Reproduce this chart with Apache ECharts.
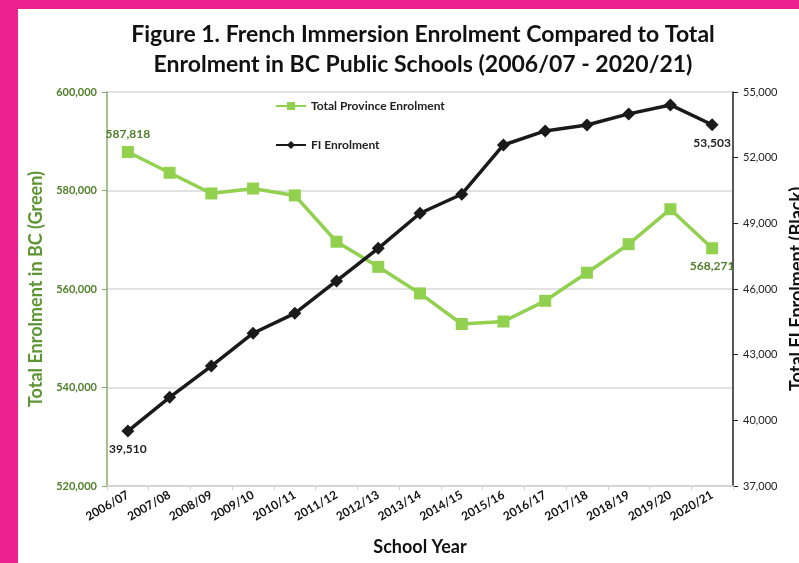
<!DOCTYPE html>
<html>
<head>
<meta charset="utf-8">
<script src="https://cdn.jsdelivr.net/npm/echarts@6/dist/echarts.min.js"></script>
<style>
  html, body { margin: 0; padding: 0; background: #ec2290; width: 799px; height: 563px; overflow: hidden; }
  #chart { position: absolute; left: 18px; top: 9px; width: 781px; height: 554px; background: #fff; }
</style>
</head>
<body>
<div id="chart"></div>
<script>
const years = ['2006/07', '2007/08', '2008/09', '2009/10', '2010/11', '2011/12', '2012/13', '2013/14',
  '2014/15', '2015/16', '2016/17', '2017/18', '2018/19', '2019/20', '2020/21'];
const totalEnrolment = [587818, 583600, 579400, 580400, 579000, 569600, 564500, 559100,
  552900, 553400, 557600, 563300, 569100, 576200, 568271];
const fiEnrolment = [39510, 41050, 42480, 43980, 44890, 46370, 47860, 49460,
  50330, 52580, 53220, 53490, 54000, 54410, 53503];

const green = '#92d050';
const darkGreen = '#4f7f2a';
const font = 'Lato, "Open Sans", sans-serif';

// only first and last point get a value label
const endLabel = (arr, firstPos, lastPos, color) => arr.map((v, i) => ({
  value: v,
  label: (i === 0 || i === arr.length - 1)
    ? { show: true, position: i === 0 ? firstPos : lastPos, distance: 6,
        color: color, fontSize: 12, fontWeight: 'bold', fontFamily: font,
        formatter: p => p.value.toLocaleString('en-US') }
    : { show: false }
}));

const chart = echarts.init(document.getElementById('chart'));
chart.setOption({
  animation: false,
  title: {
    text: 'Figure 1. French Immersion Enrolment Compared to Total\nEnrolment in BC Public Schools (2006/07 - 2020/21)',
    left: 400, top: 6, textAlign: 'center',
    textStyle: { fontFamily: font, fontSize: 23, fontWeight: 'bold', color: '#111', lineHeight: 30 }
  },
  legend: {
    orient: 'vertical', left: 252, top: 86, itemGap: 27, itemWidth: 30, itemHeight: 10,
    textStyle: { fontFamily: font, fontSize: 12, fontWeight: 'bold', color: '#222' },
    data: ['Total Province Enrolment', 'FI Enrolment']
  },
  grid: { left: 89, right: 66, top: 83, bottom: 77, outerBoundsMode: 'none', containLabel: false },
  xAxis: {
    type: 'category', data: years, boundaryGap: true,
    name: 'School Year', nameLocation: 'middle', nameGap: 52,
    nameTextStyle: { fontFamily: font, fontSize: 18, fontWeight: 'bold', color: '#111' },
    axisLine: { lineStyle: { color: '#d0d0d0', width: 1.5 } },
    axisTick: { show: true, length: 4, lineStyle: { color: '#d0d0d0' } },
    axisLabel: { rotate: 30, fontFamily: font, fontSize: 12, fontWeight: 'bold', color: '#111', margin: 8 }
  },
  yAxis: [{
    type: 'value', min: 520000, max: 600000, interval: 20000,
    name: 'Total Enrolment in BC (Green)', nameLocation: 'middle', nameGap: 50,
    nameTextStyle: { fontFamily: font, fontSize: 18, fontWeight: 'bold', color: '#5e9534' },
    axisLine: { show: true, lineStyle: { color: '#86ab6c', width: 1.5 } },
    axisTick: { show: true, length: 5, lineStyle: { color: '#86ab6c' } },
    axisLabel: { fontFamily: font, fontSize: 11, fontWeight: 'bold', color: darkGreen, margin: 10,
      formatter: v => v.toLocaleString('en-US') },
    splitLine: { lineStyle: { color: '#d9d9d9', width: 1.5 } }
  }, {
    type: 'value', min: 37000, max: 55000, interval: 3000,
    name: 'Total FI Enrolment (Black)', nameLocation: 'middle', nameGap: 52,
    nameTextStyle: { fontFamily: font, fontSize: 18, fontWeight: 'bold', color: '#111' },
    axisLine: { show: true, lineStyle: { color: '#222', width: 1.5 } },
    axisTick: { show: true, length: 5, lineStyle: { color: '#222' } },
    axisLabel: { fontFamily: font, fontSize: 11, color: '#222', margin: 10,
      formatter: v => v.toLocaleString('en-US') },
    splitLine: { show: false }
  }],
  series: [{
    name: 'Total Province Enrolment', type: 'line', yAxisIndex: 0,
    data: endLabel(totalEnrolment, 'top', 'bottom', darkGreen),
    symbol: 'rect', symbolSize: 12,
    lineStyle: { color: green, width: 3.5 },
    itemStyle: { color: green }
  }, {
    name: 'FI Enrolment', type: 'line', yAxisIndex: 1,
    data: endLabel(fiEnrolment, 'bottom', 'bottom', '#222'),
    symbol: 'diamond', symbolSize: 13,
    lineStyle: { color: '#1a1a1a', width: 3.5 },
    itemStyle: { color: '#1a1a1a' }
  }]
});
</script>
</body>
</html>
